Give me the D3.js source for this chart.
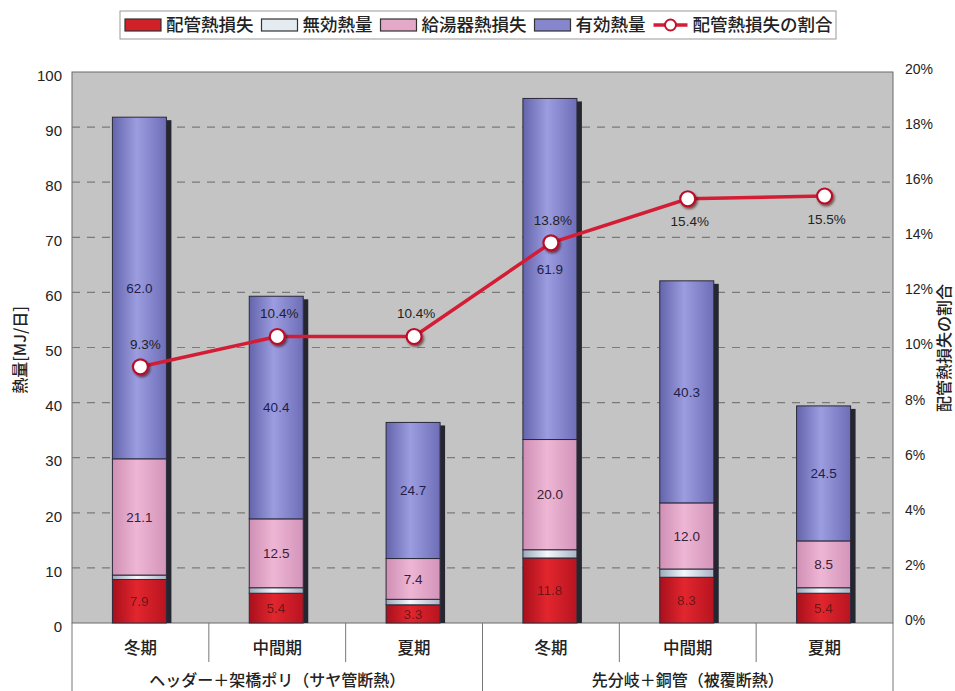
<!DOCTYPE html>
<html><head><meta charset="utf-8">
<script src="https://cdn.jsdelivr.net/npm/d3@7"></script>
<style>
html,body{margin:0;padding:0;background:#fff;}
svg{display:block;}
</style></head>
<body>
<svg id="c" width="955" height="691"></svg>
<script>
// ---- data ----
const categories = ["冬期","中間期","夏期","冬期","中間期","夏期"];
const groups = ["ヘッダー＋架橋ポリ（サヤ管断熱）","先分岐＋銅管（被覆断熱）"];
const seriesNames = ["配管熱損失","無効熱量","給湯器熱損失","有効熱量"];
const pipeLoss   = [7.9, 5.4, 3.3, 11.8, 8.3, 5.4];
const invalidHeat= [0.8, 1.0, 1.0, 1.5, 1.5, 1.0];
const heaterLoss = [21.1, 12.5, 7.4, 20.0, 12.0, 8.5];
const usefulHeat = [62.0, 40.4, 24.7, 61.9, 40.3, 24.5];
const lossRatio  = [0.093, 0.104, 0.104, 0.138, 0.154, 0.155];
const lineName = "配管熱損失の割合";
const yTicks = [0,10,20,30,40,50,60,70,80,90,100];
const y2Ticks = [0,0.02,0.04,0.06,0.08,0.10,0.12,0.14,0.16,0.18,0.20];

const svg = d3.select("#c");
const L=72, R=893, T=72, B=623;
const font = "'Liberation Sans', Arial, sans-serif";
const jfont = "'Noto Sans CJK JP', sans-serif";

const x = d3.scaleBand().domain(d3.range(categories.length)).range([L,R]).paddingInner(0).paddingOuter(0);
const y = d3.scaleLinear().domain([0,100]).range([B,T]);
const y2 = d3.scaleLinear().domain([0,0.2]).range([B,T]);

// gradients
const defs = svg.append("defs");
function grad(id, stops){
  const g = defs.append("linearGradient").attr("id",id).attr("x1","0").attr("x2","1").attr("y1","0").attr("y2","0");
  stops.forEach(s=>g.append("stop").attr("offset",s[0]).attr("stop-color",s[1]));
}
grad("gRed",[[0,"#a8101c"],[0.45,"#e2262e"],[1,"#b81420"]]);
grad("gInv",[[0,"#9aaabb"],[0.45,"#f4f8fc"],[1,"#a8b4c4"]]);
grad("gPink",[[0,"#cf8fb4"],[0.45,"#eeb6d4"],[1,"#d394b9"]]);
grad("gBlue",[[0,"#6464ac"],[0.45,"#9c9ce0"],[1,"#6e6eb8"]]);
const fills = ["url(#gRed)","url(#gInv)","url(#gPink)","url(#gBlue)"];

const f = defs.append("filter").attr("id","sh").attr("x","-50%").attr("y","-50%").attr("width","200%").attr("height","200%");
f.append("feDropShadow").attr("dx",1.5).attr("dy",2).attr("stdDeviation",1.2).attr("flood-color","#400").attr("flood-opacity",0.6);

// plot background
svg.append("rect").attr("x",L).attr("y",T).attr("width",R-L).attr("height",B-T)
  .attr("fill","#c4c4c4").attr("stroke","#6a6a6a").attr("stroke-width",1);

// gridlines
svg.append("g").selectAll("line").data(yTicks.filter(d=>d>0&&d<100)).join("line")
  .attr("x1",L).attr("x2",R).attr("y1",d=>y(d)).attr("y2",d=>y(d))
  .attr("stroke","#7a7a7a").attr("stroke-width",1.2).attr("stroke-dasharray","8,7");

// left axis
const yAxis = d3.axisLeft(y).tickValues(yTicks).tickSize(0).tickPadding(10);
const ga = svg.append("g").attr("transform",`translate(${L},0)`).call(yAxis);
ga.select(".domain").remove();
ga.selectAll("text").attr("font-family",font).attr("font-size",15).attr("fill","#222").attr("dy","0.55em");

// right axis
const y2Axis = d3.axisRight(y2).tickValues(y2Ticks).tickSize(0).tickPadding(12).tickFormat(d3.format(".0%"));
const gb = svg.append("g").attr("transform",`translate(${R},0)`).call(y2Axis);
gb.select(".domain").remove();
gb.selectAll("text").attr("font-family",font).attr("font-size",14).attr("fill","#222").attr("dy","0.1em");

// stacked bars
const stackData = categories.map((c,i)=>({i, v:[pipeLoss[i],invalidHeat[i],heaterLoss[i],usefulHeat[i]]}));
const bw = 54, sw = 5;
const barG = svg.append("g");
stackData.forEach(d=>{
  const cx = x(d.i)+x.bandwidth()/2 - 1;
  const x0 = cx - bw/2;
  let acc = 0;
  const total = d3.sum(d.v);
  barG.append("rect").attr("x",x0+bw).attr("y",y(total)+3).attr("width",sw).attr("height",y(0)-y(total)-3)
    .attr("fill","#262630");
  d.v.forEach((v,k)=>{
    barG.append("rect").attr("x",x0).attr("y",y(acc+v)).attr("width",bw).attr("height",y(acc)-y(acc+v))
      .attr("fill",fills[k]).attr("stroke","#2a2a3a").attr("stroke-width",1);
    if(k!==1){
      barG.append("text").attr("x",cx).attr("y",y(acc+v/2)).attr("dy","0.35em")
        .attr("text-anchor","middle").attr("font-family",font).attr("font-size",13.5)
        .attr("fill",k===0?"#5a1414":(k===2?"#3a2034":"#1e1e48")).attr("opacity",k===0?0.85:1)
        .text(v.toFixed(1));
    }
    acc+=v;
  });
});

// line
const pts = lossRatio.map((r,i)=>[x(i)+x.bandwidth()/2, y2(r)]);
svg.append("path").attr("d",d3.line()(pts)).attr("fill","none").attr("stroke","#d41c34").attr("stroke-width",3.5);
svg.append("g").selectAll("circle").data(pts).join("circle")
  .attr("cx",d=>d[0]).attr("cy",d=>d[1]).attr("r",7.5)
  .attr("fill","#fff").attr("stroke","#b8102a").attr("stroke-width",2.2).attr("filter","url(#sh)");
svg.append("g").selectAll("text").data(lossRatio).join("text")
  .attr("x",(d,i)=>pts[i][0]+(i===0?5:2)).attr("y",(d,i)=>pts[i][1]+(i>=4?23:-23)).attr("dy","0.35em")
  .attr("text-anchor","middle").attr("font-family",font).attr("font-size",13.5).attr("fill","#222")
  .text(d=>d3.format(".1%")(d));

// category axis
const catG = svg.append("g");
catG.selectAll("line").data(d3.range(categories.length+1)).join("line")
  .attr("x1",i=>i<categories.length?x(i):R).attr("x2",i=>i<categories.length?x(i):R)
  .attr("y1",B).attr("y2",i=>(i%3===0)?691:662)
  .attr("stroke","#777").attr("stroke-width",1);
catG.selectAll("text").data(categories).join("text")
  .attr("x",(d,i)=>x(i)+x.bandwidth()/2).attr("y",648).attr("dy","0.35em")
  .attr("text-anchor","middle").attr("font-family",jfont).attr("font-size",16.5).attr("font-weight",500).attr("fill","#222")
  .text(d=>d);
svg.append("g").selectAll("text").data(groups).join("text")
  .attr("x",(d,i)=>(x(i*3)+x(i*3+2)+x.bandwidth())/2).attr("y",680).attr("dy","0.35em")
  .attr("text-anchor","middle").attr("font-family",jfont).attr("font-size",16).attr("font-weight",500).attr("fill","#222")
  .text(d=>d);

// axis titles
svg.append("text").attr("transform",`translate(20,350) rotate(-90)`).attr("text-anchor","middle").attr("dy","0.35em")
  .attr("font-family",jfont).attr("font-size",16).attr("font-weight",500).attr("fill","#222").text("熱量[MJ/日]");
svg.append("text").attr("transform",`translate(944,348) rotate(-90)`).attr("text-anchor","middle").attr("dy","0.35em")
  .attr("font-family",jfont).attr("font-size",16).attr("font-weight",500).attr("fill","#222").text(lineName);

// legend (sequential layout)
const legendSwatch = ["#d02028","#e4ecf2","#e4a8c8","#8686cc"];
const lg = svg.append("g");
lg.append("rect").attr("x",120).attr("y",11).attr("width",716).attr("height",28).attr("fill","#fff").attr("stroke","#999").attr("stroke-width",1);
let lx = 125;
const legendEntries = seriesNames.map((n,k)=>({name:n,k})).concat([{name:lineName,k:-1}]);
legendEntries.forEach(it=>{
  if(it.k>=0){
    lg.append("rect").attr("x",lx).attr("y",19).attr("width",36).attr("height",12)
      .attr("fill",legendSwatch[it.k]).attr("stroke","#333").attr("stroke-width",1.2);
  } else {
    lg.append("line").attr("x1",lx).attr("x2",lx+34).attr("y1",25).attr("y2",25).attr("stroke","#d41c34").attr("stroke-width",3.5);
    lg.append("circle").attr("cx",lx+17).attr("cy",25).attr("r",5.5).attr("fill","#fff").attr("stroke","#c0142c").attr("stroke-width",2);
  }
  lx += (it.k>=0?36:34) + 5;
  const t = lg.append("text").attr("x",lx).attr("y",25).attr("dy","0.35em").attr("font-family",jfont)
    .attr("font-size",17.5).attr("font-weight",500).attr("fill","#222").text(it.name);
  lx += t.node().getComputedTextLength() + 8;
});
</script>
</body></html>
